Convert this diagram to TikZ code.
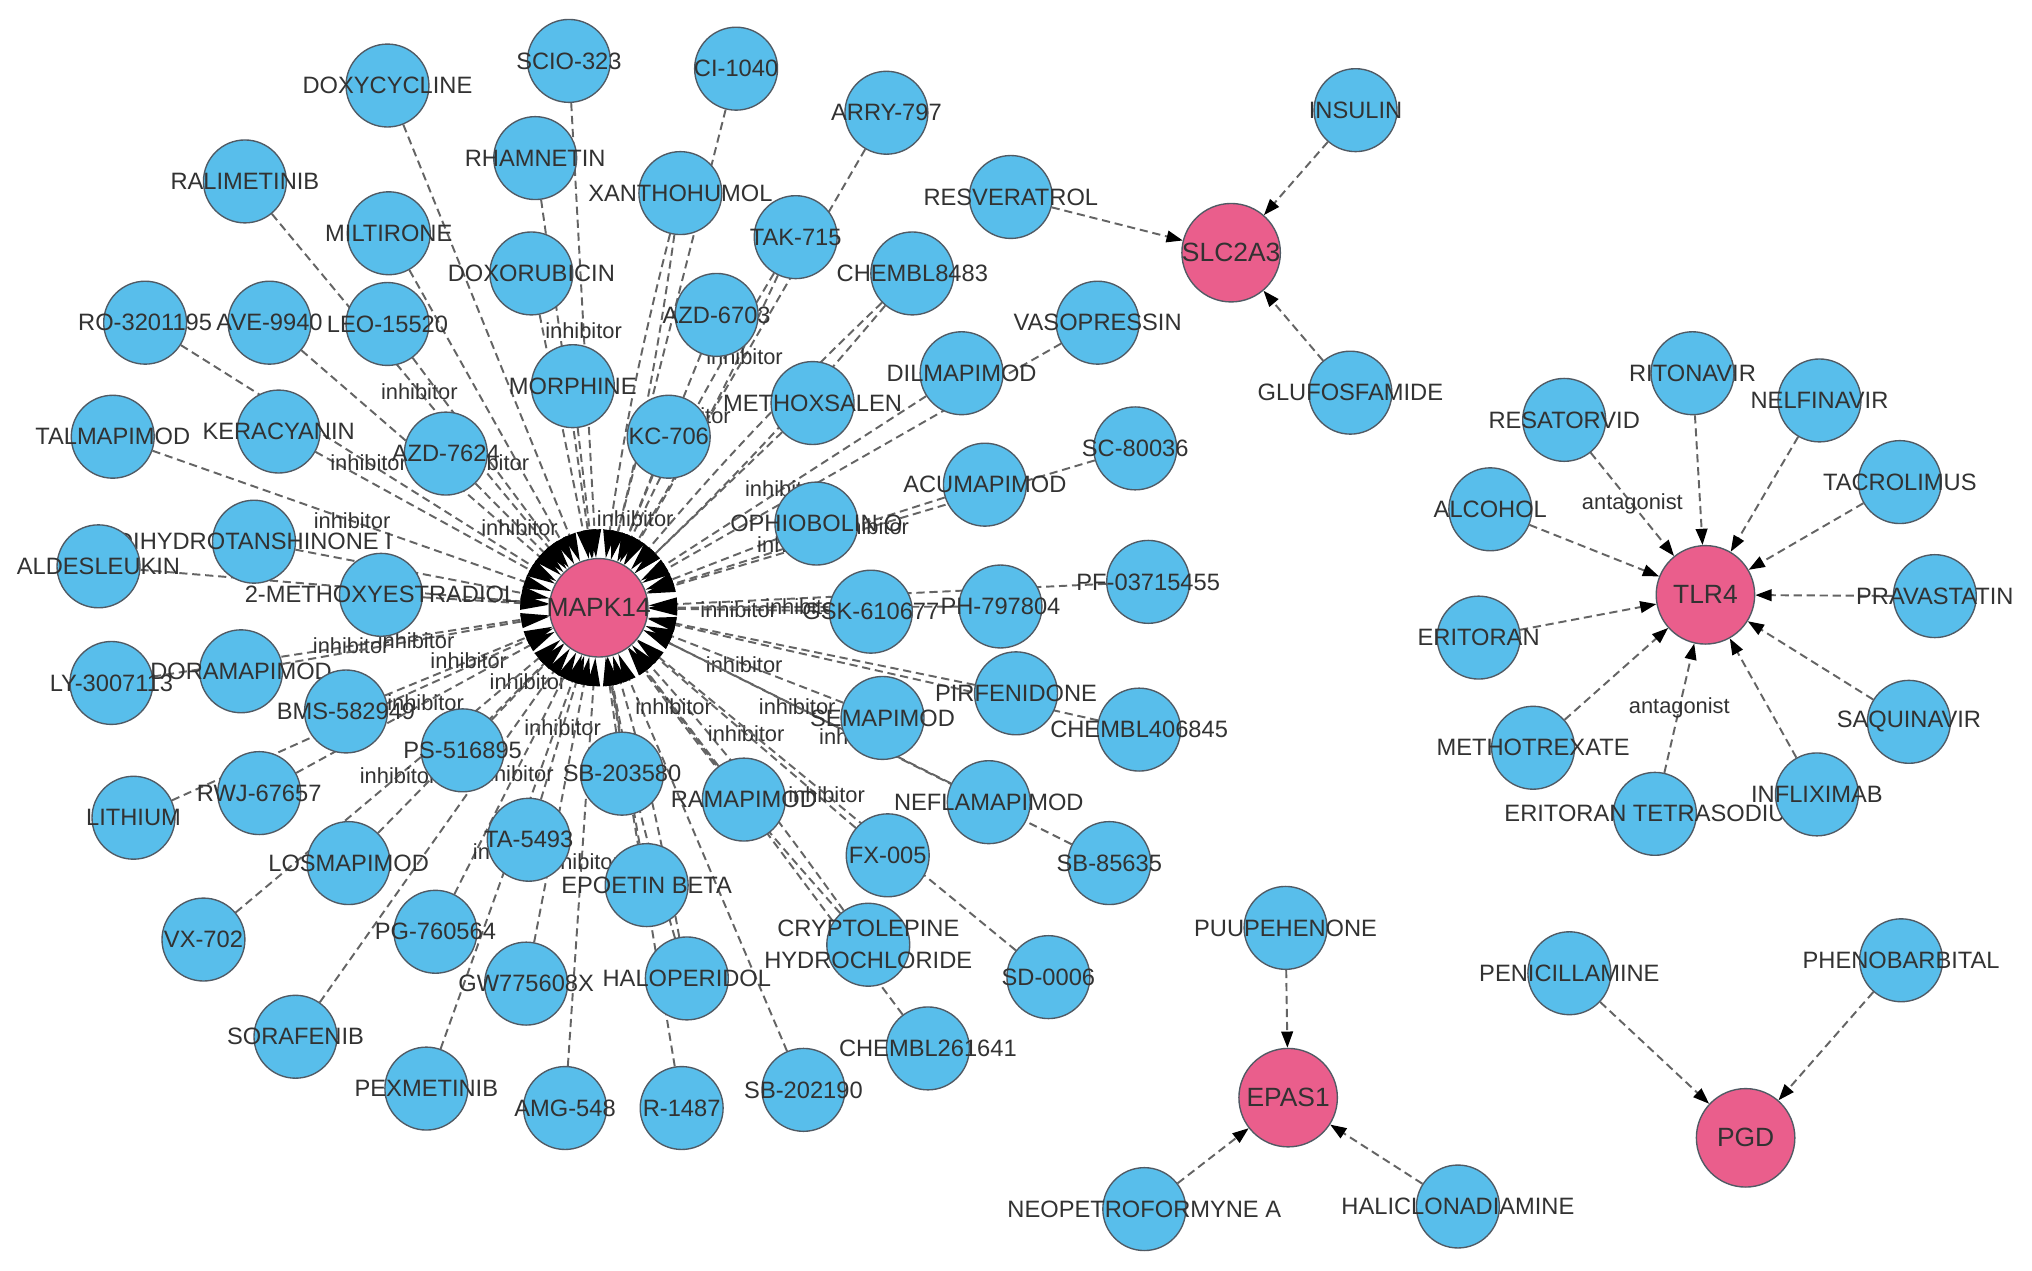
\documentclass[tikz,border=0pt]{standalone}
\usepackage{fontspec}
\usetikzlibrary{arrows.meta}
\newfontfamily\netfont{Liberation Sans}
\definecolor{drugblue}{RGB}{88,190,235}
\definecolor{genepink}{RGB}{234,94,140}
\definecolor{rimgray}{RGB}{80,90,100}
\definecolor{edgegray}{RGB}{100,100,100}
\definecolor{txtgray}{RGB}{50,50,50}
\pgfdeclarelayer{background}
\pgfsetlayers{background,main}
\tikzset{
  lbl/.style={text=txtgray, font=\netfont\fontsize{10.4}{14}\selectfont, align=center, inner sep=0pt},
  glbl/.style={text=txtgray, font=\netfont\fontsize{11.6}{14}\selectfont, inner sep=0pt},
  elbl/.style={text=txtgray, font=\netfont\fontsize{9.6}{11}\selectfont, inner sep=0pt},
  drug/.style={circle, draw=rimgray, line width=0.6pt, fill=drugblue, minimum size=1.28cm, inner sep=0pt, label={[lbl]center:#1}},
  gene/.style={circle, draw=rimgray, line width=0.6pt, fill=genepink, minimum size=1.52cm, inner sep=0pt, label={[glbl]center:#1}},
  link/.style={draw=edgegray, line width=0.85pt, dash pattern=on 3.6pt off 2.1pt},
  hit/.style={link, -{Triangle[length=0.25cm, width=0.18cm, color=black]}},
  ring/.style={link, -{Triangle[length=0.44cm, width=0.2cm, color=black]}},
}

\begin{document}
\begin{tikzpicture}[x=0.02cm, y=-0.02cm]
		%%%%% START %%%%%
		\useasboundingbox (0,0) rectangle (1568,980);
		
		% MAPK14 and its drugs
		\node[gene=MAPK14] (mapk) at (462,469) {};
		
		\node[drug=SCIO-323] (scio) at (439,47) {};
		\node[drug=CI-1040] (ci) at (568,53) {};
		\node[drug=DOXYCYCLINE] (doxy) at (299,66) {};
		\node[drug=ARRY-797] (arry) at (684,87) {};
		\node[drug=RALIMETINIB] (rali) at (189,140) {};
		\node[drug=RHAMNETIN] (rham) at (413,122) {};
		\node[drug=XANTHOHUMOL] (xanth) at (525,149) {};
		\node[drug=RESVERATROL] (resv) at (780,152) {};
		\node[drug=MILTIRONE] (milt) at (300,180) {};
		\node[drug=TAK-715] (tak) at (614,183) {};
		\node[drug=DOXORUBICIN] (doxo) at (410,211) {};
		\node[drug=CHEMBL8483] (chembla) at (704,211) {};
		\node[drug=AZD-6703] (azda) at (553,243) {};
		\node[drug=VASOPRESSIN] (vaso) at (847,249) {};
		\node[drug=RO-3201195] (ro) at (112,249) {};
		\node[drug=AVE-9940] (ave) at (208,249) {};
		\node[drug=LEO-15520] (leo) at (299,250) {};
		\node[drug=DILMAPIMOD] (dilm) at (742,288) {};
		\node[drug=MORPHINE] (morph) at (442,298) {};
		\node[drug=METHOXSALEN] (methox) at (627,311) {};
		\node[drug=KC-706] (kc) at (516,337) {};
		\node[drug=TALMAPIMOD] (talm) at (87,337) {};
		\node[drug=KERACYANIN] (kera) at (215,333) {};
		\node[drug=AZD-7624] (azdb) at (344,350) {};
		\node[drug=SC-80036] (sc) at (876,346) {};
		\node[drug=ACUMAPIMOD] (acum) at (760,374) {};
		\node[drug=OPHIOBOLIN O] (ophi) at (630,404) {};
		\node[drug=DIHYDROTANSHINONE I] (dihy) at (196,418) {};
		\node[drug=ALDESLEUKIN] (alde) at (76,437) {};
		\node[drug=2-METHOXYESTRADIOL] (meo) at (294,459) {};
		\node[drug=GSK-610677] (gsk) at (672,472) {};
		\node[drug=PH-797804] (ph) at (772,468) {};
		\node[drug=PF-03715455] (pf) at (886,449) {};
		\node[drug=LY-3007113] (ly) at (86,527) {};
		\node[drug=DORAMAPIMOD] (dora) at (186,518) {};
		\node[drug=BMS-582949] (bms) at (267,549) {};
		\node[drug=PIRFENIDONE] (pirf) at (784,535) {};
		\node[drug=CHEMBL406845] (chemblb) at (879,563) {};
		\node[drug=SEMAPIMOD] (sema) at (681,554) {};
		\node[drug=PS-516895] (ps) at (357,579) {};
		\node[drug=SB-203580] (sba) at (480,597) {};
		\node[drug=RWJ-67657] (rwj) at (200,612) {};
		\node[drug=LITHIUM] (lith) at (103,631) {};
		\node[drug=RAMAPIMOD] (rama) at (574,617) {};
		\node[drug=NEFLAMAPIMOD] (nefl) at (763,619) {};
		\node[drug=TA-5493] (ta) at (408,648) {};
		\node[drug=LOSMAPIMOD] (losm) at (269,666) {};
		\node[drug=SB-85635] (sbb) at (856,666) {};
		\node[drug=FX-005] (fx) at (685,660) {};
		\node[drug=EPOETIN BETA] (epo) at (499,683) {};
		\node[drug=VX-702] (vx) at (157,725) {};
		\node[drug=PG-760564] (pg) at (336,719) {};
		\node[drug={CRYPTOLEPINE\\HYDROCHLORIDE}] (cryp) at (670,729) {};
		\node[drug=SD-0006] (sd) at (809,754) {};
		\node[drug=GW775608X] (gw) at (406,759) {};
		\node[drug=HALOPERIDOL] (halo) at (530,755) {};
		\node[drug=SORAFENIB] (sora) at (228,800) {};
		\node[drug=CHEMBL261641] (chemblc) at (716,809) {};
		\node[drug=PEXMETINIB] (pexm) at (329,840) {};
		\node[drug=AMG-548] (amg) at (436,855) {};
		\node[drug=R-1487] (rone) at (526,855) {};
		\node[drug=SB-202190] (sbc) at (620,841) {};
		
		% SLC2A3
		\node[gene=SLC2A3] (slc) at (950,195) {};
		\node[drug=INSULIN] (ins) at (1046,85) {};
		\node[drug=GLUFOSFAMIDE] (gluf) at (1042,303) {};
		
		% TLR4
		\node[gene=TLR4] (tlr) at (1316,459) {};
		\node[drug=RESATORVID] (resa) at (1207,324) {};
		\node[drug=RITONAVIR] (rito) at (1306,288) {};
		\node[drug=NELFINAVIR] (nelf) at (1404,309) {};
		\node[drug=TACROLIMUS] (tacr) at (1466,372) {};
		\node[drug=ALCOHOL] (alco) at (1150,393) {};
		\node[drug=PRAVASTATIN] (prav) at (1493,460) {};
		\node[drug=ERITORAN] (erit) at (1141,492) {};
		\node[drug=SAQUINAVIR] (saqu) at (1473,557) {};
		\node[drug=METHOTREXATE] (metx) at (1183,577) {};
		\node[drug=ERITORAN TETRASODIUM] (erts) at (1277,628) {};
		\node[drug=INFLIXIMAB] (infl) at (1402,613) {};
		
		% EPAS1 and PGD
		\node[gene=EPAS1] (epas) at (994,847) {};
		\node[drug=PUUPEHENONE] (puup) at (992,716) {};
		\node[drug=NEOPETROFORMYNE A] (neop) at (883,933) {};
		\node[drug=HALICLONADIAMINE] (hali) at (1125,931) {};
		\node[gene=PGD] (pgd) at (1347,878) {};
		\node[drug=PENICILLAMINE] (peni) at (1211,751) {};
		\node[drug=PHENOBARBITAL] (phen) at (1467,741) {};
		
		\begin{pgfonlayer}{background}
		\fill[white] (0,0) rectangle (1568,980);
		% edges into MAPK14
		\foreach \d in {ci,doxy,rham,milt,doxo,azda,vaso,ave,morph,methox,kera,ophi,dihy,alde,meo,pf,pirf,chemblb,sba,lith,losm,epo,gw,sora,chemblc,rone,sbc}
			\draw[ring] (\d) -- (mapk);
		\foreach \d in {xanth,chembla,cryp,halo}{
			\draw[ring] (\d) to[bend left=3] (mapk);
			\draw[ring] (\d) to[bend right=3] (mapk);
		}
		\draw[ring] (tak) to[bend left=3] (mapk);
		\draw[ring] (tak) to[bend right=3] node[elbl, midway]{inhibitor} (mapk);
		\draw[ring] (scio) -- node[elbl, midway]{inhibitor} (mapk);
		\draw[ring] (arry) -- node[elbl, midway]{inhibitor} (mapk);
		\draw[ring] (rali) -- node[elbl, midway]{inhibitor} (mapk);
		\draw[ring] (ro) -- node[elbl, midway]{inhibitor} (mapk);
		\draw[ring] (leo) -- node[elbl, midway]{inhibitor} (mapk);
		\draw[ring] (dilm) -- node[elbl, midway]{inhibitor} (mapk);
		\draw[ring] (kc) -- node[elbl, midway]{inhibitor} (mapk);
		\draw[ring] (talm) -- node[elbl, midway]{inhibitor} (mapk);
		\draw[ring] (azdb) -- node[elbl, midway]{inhibitor} (mapk);
		\draw[ring] (sc) -- node[elbl, midway]{inhibitor} (mapk);
		\draw[ring] (acum) -- node[elbl, midway]{inhibitor} (mapk);
		\draw[ring] (gsk) -- node[elbl, midway]{inhibitor} (mapk);
		\draw[ring] (ph) -- node[elbl, midway]{inhibitor} (mapk);
		\draw[ring] (ly) -- node[elbl, midway]{inhibitor} (mapk);
		\draw[ring] (dora) -- node[elbl, midway]{inhibitor} (mapk);
		\draw[ring] (bms) -- node[elbl, midway]{inhibitor} (mapk);
		\draw[ring] (sema) -- node[elbl, midway]{inhibitor} (mapk);
		\draw[ring] (ps) -- node[elbl, midway]{inhibitor} (mapk);
		\draw[ring] (rwj) -- node[elbl, midway]{inhibitor} (mapk);
		\draw[ring] (rama) -- node[elbl, midway]{inhibitor} (mapk);
		\draw[ring] (nefl) -- node[elbl, midway]{inhibitor} (mapk);
		\draw[ring] (ta) -- node[elbl, midway]{inhibitor} (mapk);
		\draw[ring] (sbb) -- node[elbl, midway]{inhibitor} (mapk);
		\draw[ring] (fx) -- node[elbl, midway]{inhibitor} (mapk);
		\draw[ring] (vx) -- node[elbl, midway]{inhibitor} (mapk);
		\draw[ring] (pg) -- node[elbl, midway]{inhibitor} (mapk);
		\draw[ring] (sd) -- node[elbl, midway]{inhibitor} (mapk);
		\draw[ring] (pexm) -- node[elbl, midway]{inhibitor} (mapk);
		\draw[ring] (amg) -- node[elbl, midway]{inhibitor} (mapk);
		
		% edges into the other targets
		\draw[hit] (resv) -- (slc);
		\draw[hit] (ins) -- (slc);
		\draw[hit] (gluf) -- (slc);
		
		\draw[hit] (resa) -- node[elbl, midway]{antagonist} (tlr);
		\draw[hit] (erts) -- node[elbl, midway]{antagonist} (tlr);
		\foreach \d in {rito,nelf,tacr,alco,prav,erit,saqu,metx,infl}
			\draw[hit] (\d) -- (tlr);
		
		\draw[hit] (puup) -- (epas);
		\draw[hit] (neop) -- (epas);
		\draw[hit] (hali) -- (epas);
		\draw[hit] (peni) -- (pgd);
		\draw[hit] (phen) -- (pgd);
		\end{pgfonlayer}
		
		%%%%% END %%%%%
\end{tikzpicture}
\end{document}
